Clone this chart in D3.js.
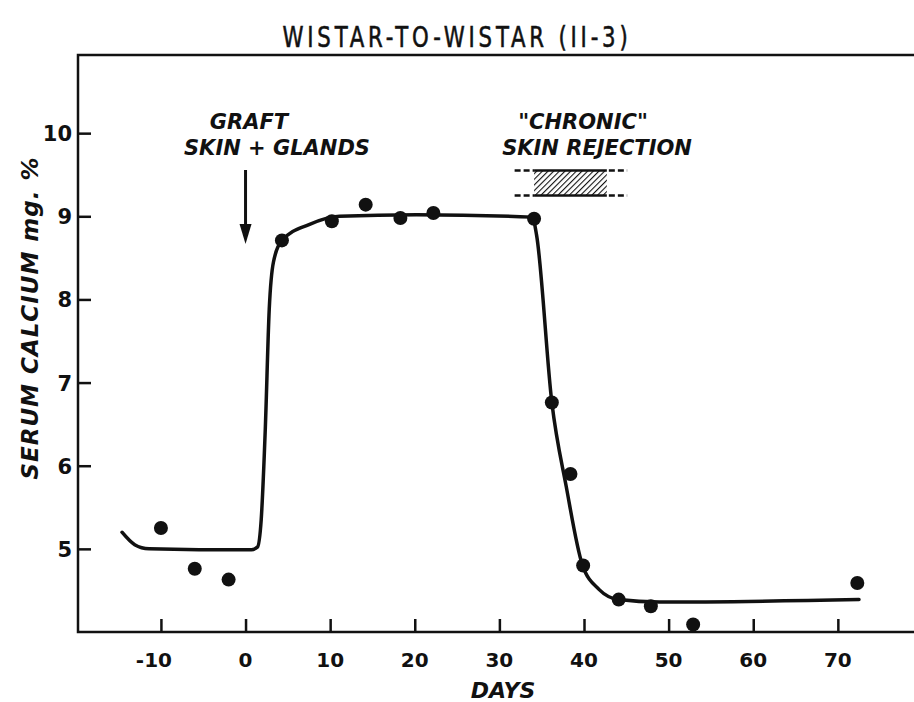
<!DOCTYPE html>
<html>
<head>
<meta charset="utf-8">
<script src="https://cdn.jsdelivr.net/npm/d3@7"></script>
<style>
  body { margin: 0; background: #fff; }
  text { font-family: "DejaVu Sans", sans-serif; fill: #111; }
</style>
</head>
<body>
<div id="chart"></div>
<script>
// Data
const days    = [-10, -6, -2, 4.3, 10.2, 14.2, 18.3, 22.2, 34.1, 36.2, 38.4, 39.9, 44.1, 47.9, 52.9, 72.3];
const calcium = [5.25, 4.76, 4.63, 8.71, 8.94, 9.14, 8.98, 9.04, 8.97, 6.76, 5.90, 4.80, 4.39, 4.31, 4.09, 4.59];

// hand-drawn fitted curve
const curveDays  = [-14.6, -13.1, -11.4, -5.5, 0.7, 1.4, 1.85, 2.33, 2.8, 3.3, 4.34, 7.5, 11.1, 20.2, 33.9, 34.4, 36.2, 37.9, 39.8, 41.8, 44.1, 48.9, 72.5];
const curveVals  = [5.20, 5.05, 5.00, 4.99, 4.99, 5.02, 5.35, 6.43, 7.88, 8.45, 8.71, 8.90, 9.00, 9.02, 8.99, 8.77, 6.76, 5.75, 4.81, 4.51, 4.39, 4.36, 4.39];

const xTicks = [-10, 0, 10, 20, 30, 40, 50, 60, 70];
const yTicks = [5, 6, 7, 8, 9, 10];

const graftDay = 0;
const rejection = [34.1, 42.7];       // hatched bar
const rejectionDash = [31.8, 45.1];   // dashed extension
const rejectionBand = [9.25, 9.55];

const w = 914, h = 702;
const pLeft = 78, pRight = 914, pTop = 55, pBottom = 632;

const x = d3.scaleLinear().domain([-19.8, 79.0]).range([pLeft, pRight]);
const y = d3.scaleLinear().domain([4.0, 10.94]).range([pBottom, pTop]);

const svg = d3.select("#chart").append("svg")
  .attr("width", w)
  .attr("height", h);

// hatch pattern
const pat = svg.append("defs").append("pattern")
  .attr("id", "hatch")
  .attr("patternUnits", "userSpaceOnUse")
  .attr("width", 4)
  .attr("height", 4)
  .attr("patternTransform", "rotate(45)");
pat.append("line")
  .attr("x1", 0).attr("y1", 0).attr("x2", 0).attr("y2", 4)
  .attr("stroke", "#111").attr("stroke-width", 2.2);

// title (tall, narrow lettering with wide spacing)
svg.append("text")
  .attr("x", 457)
  .attr("y", 47)
  .attr("text-anchor", "middle")
  .attr("font-size", 28)
  .attr("letter-spacing", 5)
  .attr("stroke", "#111")
  .attr("stroke-width", 0.6)
  .attr("textLength", 349)
  .attr("lengthAdjust", "spacingAndGlyphs")
  .text("WISTAR-TO-WISTAR  (II-3)");

// frame
svg.append("path")
  .attr("d", `M${pRight},${pTop}H${pLeft}V${pBottom}H${pRight}`)
  .attr("fill", "none")
  .attr("stroke", "#111")
  .attr("stroke-width", 2.5);

// axes (ticks point inward)
const xAxis = svg.append("g")
  .attr("transform", `translate(0,${pBottom})`)
  .call(d3.axisTop(x).tickValues(xTicks).tickSize(13).tickFormat(""));
xAxis.select(".domain").remove();
xAxis.selectAll("line").attr("stroke", "#111").attr("stroke-width", 2.5);

svg.selectAll(".xlab")
  .data(xTicks)
  .enter().append("text")
  .attr("class", "xlab")
  .attr("x", d => x(d) - (d < 0 ? 7 : 0))
  .attr("y", 667)
  .attr("text-anchor", "middle")
  .attr("font-size", 20)
  .attr("font-weight", "bold")
  .text(d => d < 0 ? "-" + Math.abs(d) : d);

const yAxis = svg.append("g")
  .attr("transform", `translate(${pLeft},0)`)
  .call(d3.axisRight(y).tickValues(yTicks).tickSize(13).tickFormat(""));
yAxis.select(".domain").remove();
yAxis.selectAll("line").attr("stroke", "#111").attr("stroke-width", 2.5);

svg.selectAll(".ylab")
  .data(yTicks)
  .enter().append("text")
  .attr("class", "ylab")
  .attr("x", 72)
  .attr("y", d => y(d) + 8)
  .attr("text-anchor", "end")
  .attr("font-size", 21)
  .attr("font-weight", "bold")
  .text(d => d);

// axis titles
svg.append("text")
  .attr("x", 503)
  .attr("y", 698)
  .attr("text-anchor", "middle")
  .attr("font-size", 22)
  .attr("font-weight", "bold")
  .attr("font-style", "italic")
  .text("DAYS");

svg.append("text")
  .attr("transform", "translate(38,318) rotate(-90)")
  .attr("text-anchor", "middle")
  .attr("font-size", 23)
  .attr("font-weight", "bold")
  .attr("font-style", "italic")
  .attr("letter-spacing", 1)
  .text("SERUM CALCIUM mg. %");

// fitted curve
const line = d3.line()
  .x(d => x(d[0]))
  .y(d => y(d[1]))
  .curve(d3.curveMonotoneX);

svg.append("path")
  .datum(d3.zip(curveDays, curveVals))
  .attr("d", line)
  .attr("fill", "none")
  .attr("stroke", "#111")
  .attr("stroke-width", 3.5)
  .attr("stroke-linejoin", "round")
  .attr("stroke-linecap", "round");

// points
svg.selectAll(".dot")
  .data(d3.zip(days, calcium))
  .enter().append("circle")
  .attr("class", "dot")
  .attr("cx", d => x(d[0]))
  .attr("cy", d => y(d[1]))
  .attr("r", 7)
  .attr("fill", "#111");

// graft annotation
svg.append("text")
  .attr("x", 249).attr("y", 129)
  .attr("text-anchor", "middle")
  .attr("font-size", 21)
  .attr("font-style", "italic")
  .attr("font-weight", "bold")
  .text("GRAFT");
svg.append("text")
  .attr("x", 277).attr("y", 155)
  .attr("text-anchor", "middle")
  .attr("font-size", 21)
  .attr("font-style", "italic")
  .attr("font-weight", "bold")
  .text("SKIN + GLANDS");

const ax = x(graftDay);
svg.append("line")
  .attr("x1", ax).attr("x2", ax)
  .attr("y1", 170).attr("y2", 228)
  .attr("stroke", "#111").attr("stroke-width", 3);
svg.append("path")
  .attr("d", `M${ax - 6},224L${ax + 6},224L${ax},244Z`)
  .attr("fill", "#111");

// chronic rejection annotation
svg.append("text")
  .attr("x", 583).attr("y", 129)
  .attr("text-anchor", "middle")
  .attr("font-size", 21)
  .attr("font-style", "italic")
  .attr("font-weight", "bold")
  .text("\"CHRONIC\"");
svg.append("text")
  .attr("x", 597).attr("y", 155)
  .attr("text-anchor", "middle")
  .attr("font-size", 21)
  .attr("font-style", "italic")
  .attr("font-weight", "bold")
  .text("SKIN REJECTION");

svg.append("rect")
  .attr("x", x(rejection[0]))
  .attr("y", y(rejectionBand[1]))
  .attr("width", x(rejection[1]) - x(rejection[0]))
  .attr("height", y(rejectionBand[0]) - y(rejectionBand[1]))
  .attr("fill", "url(#hatch)");

rejectionBand.forEach(v => {
  svg.append("line")
    .attr("x1", x(rejection[0])).attr("x2", x(rejection[1]))
    .attr("y1", y(v)).attr("y2", y(v))
    .attr("stroke", "#111").attr("stroke-width", 2.5);
  svg.append("line")
    .attr("x1", x(rejectionDash[0])).attr("x2", x(rejection[0]))
    .attr("y1", y(v)).attr("y2", y(v))
    .attr("stroke", "#111").attr("stroke-width", 2.5)
    .attr("stroke-dasharray", "6,3");
  svg.append("line")
    .attr("x1", x(rejection[1]) + 2).attr("x2", x(rejectionDash[1]))
    .attr("y1", y(v)).attr("y2", y(v))
    .attr("stroke", "#111").attr("stroke-width", 2.5)
    .attr("stroke-dasharray", "6,3");
});
</script>
</body>
</html>
